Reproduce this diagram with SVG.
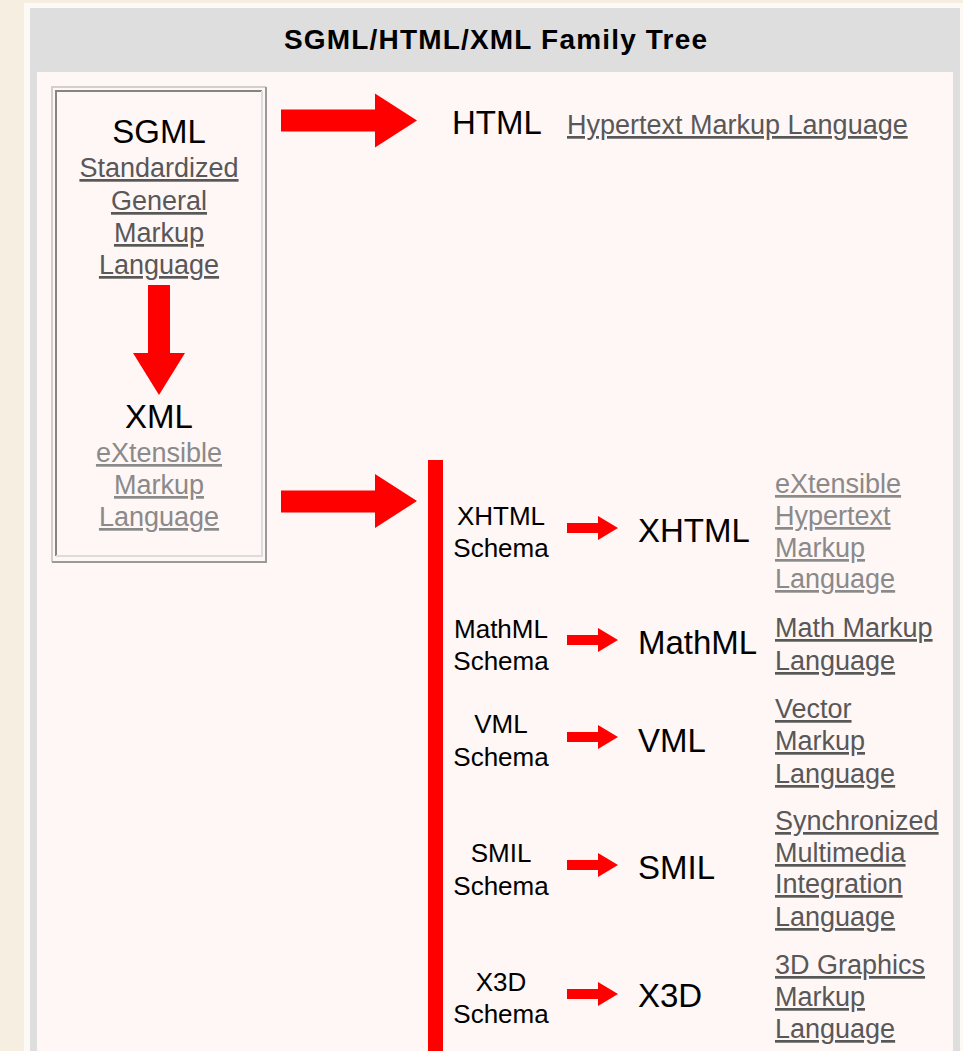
<svg xmlns="http://www.w3.org/2000/svg" xmlns:xlink="http://www.w3.org/1999/xlink" width="963" height="1051" viewBox="0 0 963 1051">
<style>
text{font-family:"Liberation Sans",Arial,sans-serif}
.title{font-size:28px;font-weight:bold;fill:#000}
.big{font-size:33px;fill:#000}
.sch{font-size:26px;fill:#000;text-anchor:middle}
.lnk{font-size:27px;fill:#585858;text-decoration:underline}
.vis{font-size:27px;fill:#8a8a8a;text-decoration:underline}
.mid{text-anchor:middle}
.red{fill:#ff0000}
</style>
<defs>
<path id="sa" d="M0,-5 H31 V-12 L51,0 L31,12 V5 H0 Z" fill="#ff0000"/>
</defs>
<rect x="0" y="0" width="963" height="1051" fill="#f5eee1"/>
<rect x="24" y="3" width="939" height="1048" fill="#fdf9f4"/>
<rect x="30" y="8" width="930" height="1043" fill="#dedede"/>
<rect x="37" y="72" width="916" height="979" fill="#fff6f6"/>
<g id="title">
<text class="title" x="284" y="49" textLength="423" lengthAdjust="spacing">SGML/HTML/XML Family Tree</text>
</g>
<g id="sgml-box">
<path d="M52,562 V87 H266" fill="none" stroke="#d4cec8" stroke-width="2"/>
<path d="M266,87 V562 H52" fill="none" stroke="#9a9a9a" stroke-width="2"/>
<path d="M56,556 V91 H262" fill="none" stroke="#858585" stroke-width="2"/>
<path d="M262,91 V556 H56" fill="none" stroke="#dcdcdc" stroke-width="2"/>
</g>
<g id="sgml">
<text class="big mid" x="159" y="143">SGML</text>
<text class="lnk mid" x="159" y="177">Standardized</text>
<text class="lnk mid" x="159" y="210">General</text>
<text class="lnk mid" x="159" y="242">Markup</text>
<text class="lnk mid" x="159" y="274">Language</text>
</g>
<g id="xml">
<text class="big mid" x="159" y="428">XML</text>
<text class="vis mid" x="159" y="462">eXtensible</text>
<text class="vis mid" x="159" y="494">Markup</text>
<text class="vis mid" x="159" y="526">Language</text>
</g>
<g id="html">
<text class="big" x="452" y="134">HTML</text>
<text class="lnk" x="567" y="134">Hypertext Markup Language</text>
</g>
<g id="xhtml-schema">
<text class="sch" x="501" y="525">XHTML</text>
<text class="sch" x="501" y="557">Schema</text>
</g>
<g id="xhtml">
<text class="big" x="638" y="542">XHTML</text>
<text class="vis" x="775" y="493">eXtensible</text>
<text class="vis" x="775" y="525">Hypertext</text>
<text class="vis" x="775" y="557">Markup</text>
<text class="vis" x="775" y="588">Language</text>
</g>
<g id="mathml-schema">
<text class="sch" x="501" y="638">MathML</text>
<text class="sch" x="501" y="670">Schema</text>
</g>
<g id="mathml">
<text class="big" x="638" y="654">MathML</text>
<text class="lnk" x="775" y="637">Math Markup</text>
<text class="lnk" x="775" y="670">Language</text>
</g>
<g id="vml-schema">
<text class="sch" x="501" y="733">VML</text>
<text class="sch" x="501" y="766">Schema</text>
</g>
<g id="vml">
<text class="big" x="638" y="752">VML</text>
<text class="lnk" x="775" y="718">Vector</text>
<text class="lnk" x="775" y="750">Markup</text>
<text class="lnk" x="775" y="783">Language</text>
</g>
<g id="smil-schema">
<text class="sch" x="501" y="862">SMIL</text>
<text class="sch" x="501" y="895">Schema</text>
</g>
<g id="smil">
<text class="big" x="638" y="879">SMIL</text>
<text class="lnk" x="775" y="830">Synchronized</text>
<text class="lnk" x="775" y="862">Multimedia</text>
<text class="lnk" x="775" y="893">Integration</text>
<text class="lnk" x="775" y="926">Language</text>
</g>
<g id="x3d-schema">
<text class="sch" x="501" y="991">X3D</text>
<text class="sch" x="501" y="1023">Schema</text>
</g>
<g id="x3d">
<text class="big" x="638" y="1007">X3D</text>
<text class="lnk" x="775" y="974">3D Graphics</text>
<text class="lnk" x="775" y="1006">Markup</text>
<text class="lnk" x="775" y="1038">Language</text>
</g>
<g id="connectors">
<polygon class="red" points="281,109.5 375,109.5 375,93.5 417,120.5 375,147.5 375,131.5 281,131.5"/>
<polygon class="red" points="148,285 170,285 170,353 185,353 159,395 133,353 148,353"/>
<polygon class="red" points="281,490.5 375,490.5 375,474 417,501 375,528 375,512.5 281,512.5"/>
<rect class="red" x="428" y="460" width="15" height="591"/>
<use xlink:href="#sa" href="#sa" transform="translate(567,528)"/>
<use xlink:href="#sa" href="#sa" transform="translate(567,640)"/>
<use xlink:href="#sa" href="#sa" transform="translate(567,737)"/>
<use xlink:href="#sa" href="#sa" transform="translate(567,865)"/>
<use xlink:href="#sa" href="#sa" transform="translate(567,994)"/>
</g>
</svg>
